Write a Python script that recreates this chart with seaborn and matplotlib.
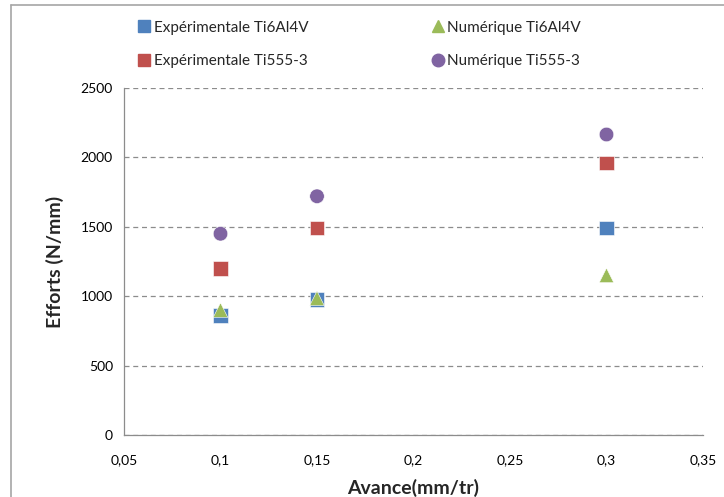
import numpy as np
import pandas as pd
import matplotlib
matplotlib.use("Agg")
import matplotlib.pyplot as plt
import seaborn as sns
from matplotlib.lines import Line2D
from matplotlib.ticker import MultipleLocator, FuncFormatter

# data
avance = [0.10, 0.15, 0.30]
exp_ti6al4v = [860, 975, 1490]
num_ti6al4v = [900, 985, 1150]
exp_ti555 = [1200, 1490, 1960]
num_ti555 = [1450, 1720, 2165]

series = {
    "Expérimentale Ti6Al4V": exp_ti6al4v,
    "Numérique Ti6Al4V": num_ti6al4v,
    "Expérimentale Ti555-3": exp_ti555,
    "Numérique Ti555-3": num_ti555,
}
colors = {
    "Expérimentale Ti6Al4V": "#4F81BD",
    "Numérique Ti6Al4V": "#9BBB59",
    "Expérimentale Ti555-3": "#C0504D",
    "Numérique Ti555-3": "#8064A2",
}
markers = {
    "Expérimentale Ti6Al4V": "s",
    "Numérique Ti6Al4V": "^",
    "Expérimentale Ti555-3": "s",
    "Numérique Ti555-3": "o",
}
legend_order = ["Expérimentale Ti6Al4V", "Expérimentale Ti555-3",
                "Numérique Ti6Al4V", "Numérique Ti555-3"]

df = pd.DataFrame([
    {"avance": x, "effort": y, "serie": name}
    for name, vals in series.items() for x, y in zip(avance, vals)
])

sns.set_theme(style="white")
plt.rcParams["font.family"] = ["Lato", "DejaVu Sans"]

fig = plt.figure(figsize=(7.24, 4.97), dpi=100)
ax = fig.add_axes([124 / 724, 1 - 435 / 497, (703 - 124) / 724, (435 - 88) / 497])

sns.scatterplot(data=df, x="avance", y="effort", hue="serie", style="serie",
                palette=colors, markers=markers, s=110, edgecolor="white",
                linewidth=0.4, legend=False, ax=ax, zorder=3)

ax.set_xlim(0.05, 0.35)
ax.set_ylim(0, 2500)
ax.xaxis.set_major_locator(MultipleLocator(0.05))
ax.yaxis.set_major_locator(MultipleLocator(500))
ax.xaxis.set_major_formatter(FuncFormatter(lambda v, p: f"{v:g}".replace(".", ",")))
ax.yaxis.set_major_formatter(FuncFormatter(lambda v, p: f"{v:g}"))
ax.grid(axis="y", color="#8C8C8C", linestyle=(0, (4, 3)), linewidth=0.9)
ax.set_axisbelow(True)

for side in ["top", "right"]:
    ax.spines[side].set_visible(False)
for side in ["left", "bottom"]:
    ax.spines[side].set_color("#8C8C8C")
    ax.spines[side].set_linewidth(0.9)
ax.tick_params(axis="both", colors="#8C8C8C", labelcolor="black",
               labelsize=10, length=4, width=0.9)
ax.tick_params(axis="y", direction="out", pad=4)
ax.tick_params(axis="x", direction="out", pad=10)

# x label sits partly below the bottom edge, as in the cropped reference
ax.set_xlabel("Avance(mm/tr)", fontsize=14, fontweight="bold", labelpad=9)
ax.set_ylabel("Efforts (N/mm)", fontsize=14, fontweight="bold", labelpad=12)

handles = [Line2D([], [], linestyle="none", marker=markers[n], color=colors[n],
                  markersize=9, label=n) for n in legend_order]
fig.legend(handles=handles, ncol=2, loc="upper left",
           bbox_to_anchor=(123 / 724, 1 - 7 / 497), frameon=False,
           fontsize=11, handletextpad=0.1, columnspacing=8.0,
           labelspacing=1.25, handlelength=1.0)

# chart-area frame (cropped in the reference: only top and left edges visible)
fig.add_artist(Line2D([11 / 724, 1], [1 - 5 / 497, 1 - 5 / 497],
                      transform=fig.transFigure, color="#A6A6A6", linewidth=1.2))
fig.add_artist(Line2D([11 / 724, 11 / 724], [0, 1 - 5 / 497],
                      transform=fig.transFigure, color="#A6A6A6", linewidth=1.2))

fig.savefig("out.png", dpi=100, facecolor="white")
